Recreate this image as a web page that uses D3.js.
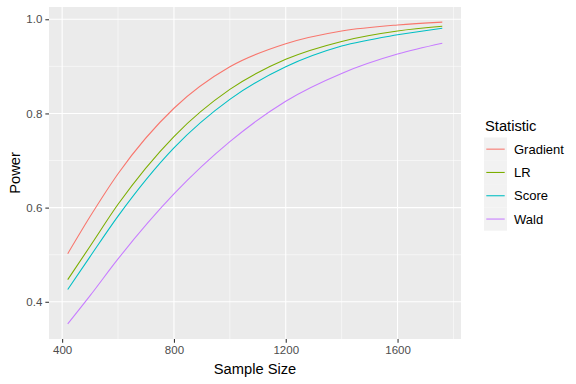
<!DOCTYPE html>
<html>
<head>
<meta charset="utf-8">
<script src="https://cdn.jsdelivr.net/npm/d3@7"></script>
<style>
    body { margin: 0; background: #fff; }
    text { font-family: Arial, "Liberation Sans", sans-serif; }
</style>
</head>
<body>
<svg id="chart"></svg>
<script>
// values
const sampleSize = [420, 500, 600, 800, 1000, 1200, 1400, 1600, 1760];
const gradient = [0.502, 0.581, 0.672, 0.811, 0.899, 0.948, 0.975, 0.988, 0.994];
const lr       = [0.447, 0.518, 0.607, 0.751, 0.851, 0.915, 0.953, 0.975, 0.985];
const score    = [0.426, 0.496, 0.582, 0.727, 0.830, 0.899, 0.943, 0.967, 0.981];
const wald     = [0.353, 0.413, 0.491, 0.629, 0.740, 0.826, 0.885, 0.926, 0.949];
const statNames = ['Gradient', 'LR', 'Score', 'Wald'];
const xTicks = [400, 800, 1200, 1600];
const xMinor = [600, 1000, 1400, 1800];
const yTicks = [0.4, 0.6, 0.8, 1.0];
const yMinor = [0.5, 0.7, 0.9];

const size = {w: 576, h: 384};
const panel = {l: 49, r: 461, t: 7, b: 339};
const colors = ['#F8766D', '#7CAE00', '#00BFC4', '#C77CFF'];

const svg = d3.select('svg#chart')
    .attr('width', size.w)
    .attr('height', size.h);

// ggplot style 5% expansion
const xExt = d3.extent(sampleSize);
const allY = gradient.concat(lr, score, wald);
const yExt = d3.extent(allY);
const xPad = (xExt[1] - xExt[0]) * 0.05;
const yPad = (yExt[1] - yExt[0]) * 0.05;

const x = d3.scaleLinear()
    .domain([xExt[0] - xPad, xExt[1] + xPad])
    .range([panel.l, panel.r]);
const y = d3.scaleLinear()
    .domain([yExt[0] - yPad, yExt[1] + yPad])
    .range([panel.b, panel.t]);

//PANEL + GRID
svg.append('rect')
    .attr('x', panel.l).attr('y', panel.t)
    .attr('width', panel.r - panel.l).attr('height', panel.b - panel.t)
    .attr('fill', '#EBEBEB');

const grid = svg.append('g');
grid.selectAll('.xminor').data(xMinor.filter(d => x(d) < panel.r)).join('line')
    .attr('x1', d => x(d)).attr('x2', d => x(d))
    .attr('y1', panel.t).attr('y2', panel.b)
    .attr('stroke', '#fff').attr('stroke-width', 0.53);
grid.selectAll('.yminor').data(yMinor).join('line')
    .attr('y1', d => y(d)).attr('y2', d => y(d))
    .attr('x1', panel.l).attr('x2', panel.r)
    .attr('stroke', '#fff').attr('stroke-width', 0.53);
grid.selectAll('.xmajor').data(xTicks).join('line')
    .attr('x1', d => x(d)).attr('x2', d => x(d))
    .attr('y1', panel.t).attr('y2', panel.b)
    .attr('stroke', '#fff').attr('stroke-width', 1.07);
grid.selectAll('.ymajor').data(yTicks).join('line')
    .attr('y1', d => y(d)).attr('y2', d => y(d))
    .attr('x1', panel.l).attr('x2', panel.r)
    .attr('stroke', '#fff').attr('stroke-width', 1.07);

//LINES
const series = [gradient, lr, score, wald];
const line = d3.line()
    .x((d, i) => x(sampleSize[i]))
    .y(d => y(d))
    .curve(d3.curveMonotoneX);

svg.append('g')
    .selectAll('path')
    .data(series)
    .join('path')
    .attr('d', line)
    .attr('fill', 'none')
    .attr('stroke', (d, i) => colors[i])
    .attr('stroke-width', 1.07);

//AXES
const xAxis = svg.append('g')
    .attr('transform', `translate(0, ${panel.b})`)
    .call(d3.axisBottom(x).tickValues(xTicks).tickFormat(d3.format('d')).tickSize(3.65).tickPadding(3));
const yAxis = svg.append('g')
    .attr('transform', `translate(${panel.l}, 0)`)
    .call(d3.axisLeft(y).tickValues(yTicks).tickFormat(d3.format('.1f')).tickSize(3.65).tickPadding(3));

[xAxis, yAxis].forEach(a => {
    a.select('.domain').remove();
    a.selectAll('.tick line').attr('stroke', '#333333').attr('stroke-width', 1.07);
    a.selectAll('.tick text')
        .attr('fill', '#4D4D4D')
        .style('font-size', '11.5px')
        .style('font-family', 'Arial, "Liberation Sans", sans-serif');
});

//AXIS TITLES
svg.append('text')
    .attr('x', (panel.l + panel.r) / 2)
    .attr('y', 374)
    .attr('text-anchor', 'middle')
    .style('font-size', '14.7px')
    .text('Sample Size');

svg.append('text')
    .attr('transform', `translate(20, ${(panel.t + panel.b) / 2}) rotate(-90)`)
    .attr('text-anchor', 'middle')
    .style('font-size', '14.7px')
    .text('Power');

//LEGEND
const legend = svg.append('g').attr('transform', 'translate(484, 0)');
legend.append('text')
    .attr('x', 1).attr('y', 130.5)
    .style('font-size', '14.7px')
    .text('Statistic');

const keyH = 23.3;
const keyTop = 137.5;
const keys = legend.selectAll('g.key')
    .data(statNames)
    .join('g')
    .attr('transform', (d, i) => `translate(0, ${keyTop + i * keyH})`);
keys.append('rect')
    .attr('width', 23).attr('height', keyH)
    .attr('fill', '#F2F2F2');
keys.append('line')
    .attr('x1', 2.3).attr('x2', 20.7)
    .attr('y1', keyH / 2).attr('y2', keyH / 2)
    .attr('stroke', (d, i) => colors[i])
    .attr('stroke-width', 1.07);
keys.append('text')
    .attr('x', 30).attr('y', keyH / 2)
    .attr('dy', '0.35em')
    .style('font-size', '13px')
    .text(d => d);
</script>
</body>
</html>
